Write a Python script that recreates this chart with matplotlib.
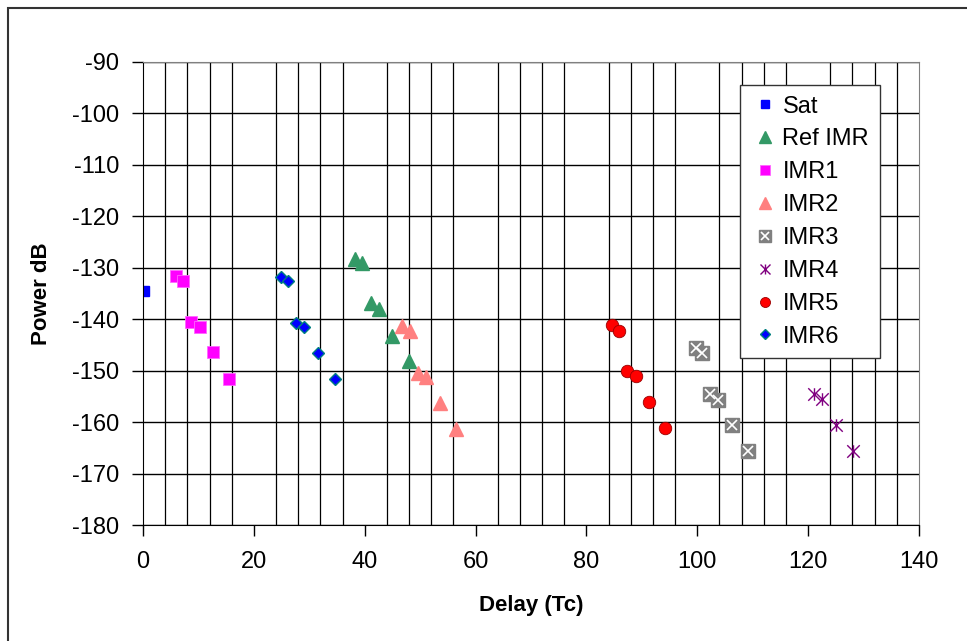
import numpy as np
import matplotlib.pyplot as plt
from matplotlib.path import Path
from matplotlib.patches import Rectangle
from matplotlib.legend_handler import HandlerTuple

plt.rcParams['font.family'] = ['Liberation Sans', 'DejaVu Sans']
plt.rcParams['axes.unicode_minus'] = False

# data
sat_x = [0.2]
sat_y = [-134.5]

ref_x = [38.2, 39.5, 41.2, 42.6, 45.0, 47.9]
ref_y = [-128.2, -129.0, -136.9, -138.0, -143.2, -148.1]

imr1_x = [5.9, 7.2, 8.7, 10.3, 12.6, 15.6]
imr1_y = [-131.6, -132.6, -140.6, -141.5, -146.4, -151.6]

imr2_x = [46.8, 48.2, 49.7, 51.1, 53.5, 56.5]
imr2_y = [-141.3, -142.3, -150.4, -151.2, -156.2, -161.3]

imr3_x = [99.8, 100.8, 102.3, 103.7, 106.3, 109.1]
imr3_y = [-145.6, -146.6, -154.5, -155.7, -160.6, -165.6]

imr4_x = [121.1, 122.5, 125.0, 128.1]
imr4_y = [-154.5, -155.5, -160.6, -165.6]

imr5_x = [84.6, 85.9, 87.3, 88.9, 91.3, 94.2]
imr5_y = [-141.1, -142.3, -150.1, -151.0, -156.1, -161.2]

imr6_x = [24.9, 26.2, 27.6, 29.0, 31.6, 34.6]
imr6_y = [-131.7, -132.6, -140.7, -141.6, -146.6, -151.6]

# asterisk marker: X plus a vertical bar
ast = Path([(0, -1), (0, 1), (-1, -1), (1, 1), (-1, 1), (1, -1)],
           [Path.MOVETO, Path.LINETO] * 3)

fig = plt.figure(figsize=(9.67, 6.41), dpi=100)
ax = fig.add_axes([143/967, 1-525/641, 776/967, 463/641])

# outer chart border
fig.patches.append(Rectangle((8/967, -0.1), 1.2, 1-8/641+0.1, transform=fig.transFigure,
                             fill=False, ec='#333333', lw=1.5))

h_sat, = ax.plot(sat_x, sat_y, 's', color='#0000FF', ms=7.5, mec='#0000FF', ls='none', label='Sat')
h_ref, = ax.plot(ref_x, ref_y, '^', color='#339966', ms=10.5, mec='#339966', ls='none', label='Ref IMR')
h_1, = ax.plot(imr1_x, imr1_y, 's', color='#FF00FF', ms=9, mec='#FF66FF', mew=0.6, ls='none', label='IMR1')
h_2, = ax.plot(imr2_x, imr2_y, '^', color='#FF8080', ms=10.5, mec='#FF8080', ls='none', label='IMR2')
h_3a, = ax.plot(imr3_x, imr3_y, 's', color='#808080', ms=10, mec='#808080', ls='none')
h_3b, = ax.plot(imr3_x, imr3_y, 'x', color='white', ms=7.5, mew=1.2, ls='none')
h_4, = ax.plot(imr4_x, imr4_y, marker=ast, color='#800080', mfc='none', ms=9, mew=1.0, ls='none', label='IMR4')
h_5, = ax.plot(imr5_x, imr5_y, 'o', color='#FF0000', ms=9, mec='#990000', mew=0.6, ls='none', label='IMR5')
h_6, = ax.plot(imr6_x, imr6_y, 'D', color='#0000FF', ms=6.5, mec='#008080', mew=1.0, ls='none', label='IMR6')

ax.set_xlim(0, 140)
ax.set_ylim(-180, -90)
ax.set_xticks(np.arange(0, 141, 20))
ax.set_xticks(np.arange(0, 141, 4), minor=True)
ax.set_yticks(np.arange(-180, -89, 10))
ax.grid(which='major', axis='y', color='black', lw=1.0)
ax.grid(which='minor', axis='x', color='black', lw=0.9)
ax.set_axisbelow(True)
ax.tick_params(axis='both', which='major', direction='out', length=8, width=1,
               labelsize=17, pad=9)
ax.tick_params(axis='x', which='minor', length=0)
ax.tick_params(axis='x', which='major', pad=11)
for s in ['left', 'bottom']:
    ax.spines[s].set_color('black')
for s in ['top', 'right']:
    ax.spines[s].set_color('#808080')

ax.set_xlabel('Delay (Tc)', fontsize=16, fontweight='bold')
ax.set_ylabel('Power dB', fontsize=16, fontweight='bold')
ax.xaxis.set_label_coords(0.5, -0.152)
ax.yaxis.set_label_coords(-0.117, 0.5)

handles = [h_sat, h_ref, h_1, h_2, (h_3a, h_3b), h_4, h_5, h_6]
labels = ['Sat', 'Ref IMR', 'IMR1', 'IMR2', 'IMR3', 'IMR4', 'IMR5', 'IMR6']
leg = fig.legend(handles, labels, loc='upper left', bbox_to_anchor=(740/967, 1-85/641),
                 bbox_transform=fig.transFigure, borderaxespad=0, fontsize=17,
                 frameon=True, fancybox=False, framealpha=1, edgecolor='#333333',
                 handlelength=1.2, handletextpad=0.15, labelspacing=0.46,
                 borderpad=0.45, markerscale=0.8,
                 handler_map={tuple: HandlerTuple(ndivide=1)})
leg.get_frame().set_linewidth(1.0)

fig.savefig('out.png', dpi=100)
